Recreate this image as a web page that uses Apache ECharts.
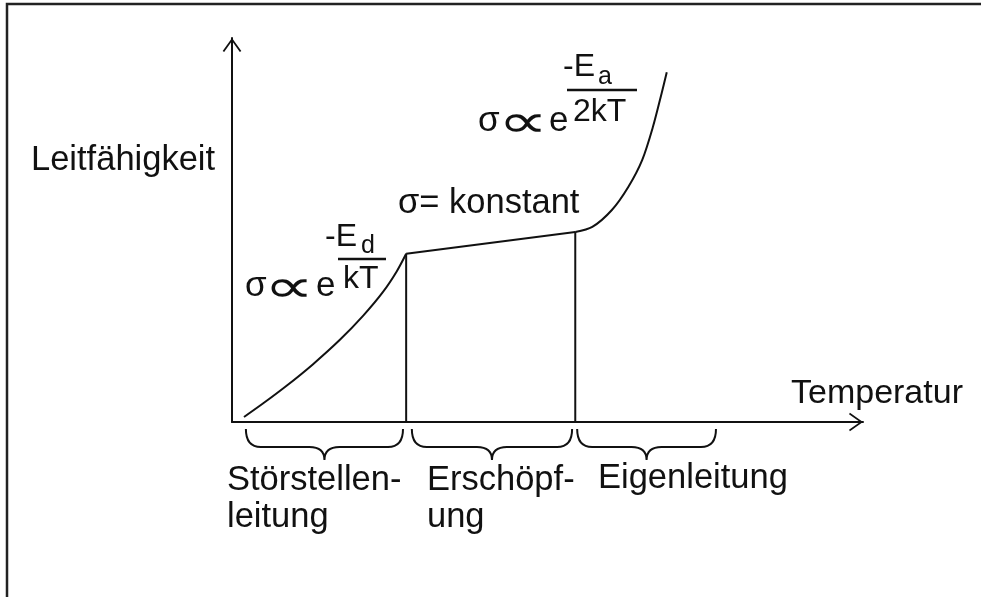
<!DOCTYPE html>
<html>
<head>
<meta charset="utf-8">
<style>
  html, body { margin: 0; padding: 0; background: #fff; }
  #chart { width: 981px; height: 597px; }
</style>
<script src="https://cdn.jsdelivr.net/npm/echarts@6/dist/echarts.min.js"></script>
</head>
<body>
<div id="chart"></div>
<script>
// conductivity vs temperature, arbitrary units (0..100 on both axes)
const extrinsic = [[1.9, 1.3], [4.9, 4.8], [8.7, 9.5], [12.8, 15.0], [17.1, 21.4],
  [20.8, 27.7], [23.9, 33.8], [26.1, 39.2], [27.6, 43.8]];
const exhaustion = [[27.6, 43.8], [54.4, 49.5]];
const intrinsic = [[54.4, 49.5], [57.1, 50.8], [60.2, 55.2], [62.8, 61.2], [65.0, 68.2],
  [66.7, 76.8], [68.1, 85.7], [68.9, 91.1]];
const boundaries = [[27.6, 43.8], [54.4, 49.5]];
const regionSpans = [[2.2, 27.1], [28.5, 53.9], [54.7, 76.7]];
const regionNames = ['Störstellen-\nleitung', 'Erschöpf-\nung', 'Eigenleitung'];
const yName = 'Leitfähigkeit';
const xName = 'Temperatur';

const INK = '#111';
const FONT = '"Liberation Sans", Arial, "DejaVu Sans", sans-serif';
const MATH = '"DejaVu Sans", sans-serif';
const arrow = 'path://M0,14 L10,0 L20,14 L18.4,15 L10,3.2 L1.6,15 Z';

// text placed by its alphabetic baseline
function txt(text, x, base, size, lh, family) {
  lh = lh || size;
  return {
    type: 'text', x: x, y: base - lh / 2 - 0.3465 * size, silent: true,
    style: { text: text, font: size + 'px ' + (family || FONT), fill: INK, lineHeight: lh, verticalAlign: 'top', align: 'left' }
  };
}
// the proportional sign, stretched wide and set on the baseline like the original
function prop(x, base) {
  const el = txt('∝', x, base, 36, null, MATH);
  el.scaleX = 1.95;
  el.scaleY = 1.3;
  el.y = base - 1.3 * (18 + 0.3465 * 36 - 6.3);
  return el;
}
function hline(x1, x2, y) {
  return { type: 'line', silent: true, shape: { x1: x1, y1: y, x2: x2, y2: y }, style: { stroke: INK, lineWidth: 2.5 } };
}

function axisLine() {
  return {
    show: true, onZero: false,
    symbol: ['none', arrow], symbolSize: [20, 14], symbolOffset: [0, -7],
    lineStyle: { color: INK, width: 2 }
  };
}

function lineSeries(data, smooth) {
  return {
    type: 'line', data: data, smooth: smooth, symbol: 'none', silent: true,
    lineStyle: { color: INK, width: 2 }
  };
}

const chart = echarts.init(document.getElementById('chart'));
chart.setOption({
  animation: false,
  backgroundColor: '#fff',
  grid: { left: 232, right: 118, top: 38, bottom: 175 },
  xAxis: {
    type: 'value', min: 0, max: 100,
    axisLine: axisLine(), axisTick: { show: false }, axisLabel: { show: false }, splitLine: { show: false }
  },
  yAxis: {
    type: 'value', min: 0, max: 100,
    axisLine: axisLine(), axisTick: { show: false }, axisLabel: { show: false }, splitLine: { show: false }
  },
  series: [
    lineSeries(extrinsic, 0.3),
    lineSeries(exhaustion, false),
    lineSeries(intrinsic, 0.3),
    ...boundaries.map(b => lineSeries([[b[0], 0], [b[0], b[1]]], false)),
    {
      type: 'custom', clip: false, silent: true,
      data: regionSpans,
      renderItem: function (params, api) {
        const a = api.coord([api.value(0), 0]);
        const b = api.coord([api.value(1), 0]);
        const t = a[1] + 7, band = t + 18, tip = t + 31, r = 15;
        const m = (a[0] + b[0]) / 2;
        const d = 'M' + a[0] + ',' + t +
          ' Q' + a[0] + ',' + band + ' ' + (a[0] + r) + ',' + band +
          ' L' + (m - r) + ',' + band +
          ' Q' + m + ',' + band + ' ' + m + ',' + tip +
          ' Q' + m + ',' + band + ' ' + (m + r) + ',' + band +
          ' L' + (b[0] - r) + ',' + band +
          ' Q' + b[0] + ',' + band + ' ' + b[0] + ',' + t;
        return { type: 'path', shape: { pathData: d }, style: { stroke: INK, fill: null, lineWidth: 2 } };
      }
    }
  ],
  graphic: [
    { type: 'rect', silent: true, shape: { x: 7, y: 4, width: 1100, height: 1100 },
      style: { stroke: '#222', fill: null, lineWidth: 2.5 } },
    txt(yName, 31, 172, 34.5),
    txt(xName, 791, 405, 34),
    txt('σ= konstant', 398, 215, 34.5),
    // sigma ~ exp(-Ed/kT)
    txt('σ', 245, 298, 35),
    prop(264, 298),
    txt('e', 316, 298, 35),
    txt('-E', 325, 248, 32),
    txt('d', 361, 255, 25),
    hline(338, 386, 259),
    txt('kT', 343, 290, 32),
    // sigma ~ exp(-Ea/2kT)
    txt('σ', 478, 133, 35),
    prop(498, 133),
    txt('e', 549, 133, 35),
    txt('-E', 563, 78, 32),
    txt('a', 598, 86, 25),
    hline(567, 637, 90),
    txt('2kT', 573, 123, 32),
    // region labels
    txt(regionNames[0], 227, 492, 34.5, 37),
    txt(regionNames[1], 427, 492, 34.5, 37),
    txt(regionNames[2], 598, 490, 34.5, 37)
  ]
});
</script>
</body>
</html>
